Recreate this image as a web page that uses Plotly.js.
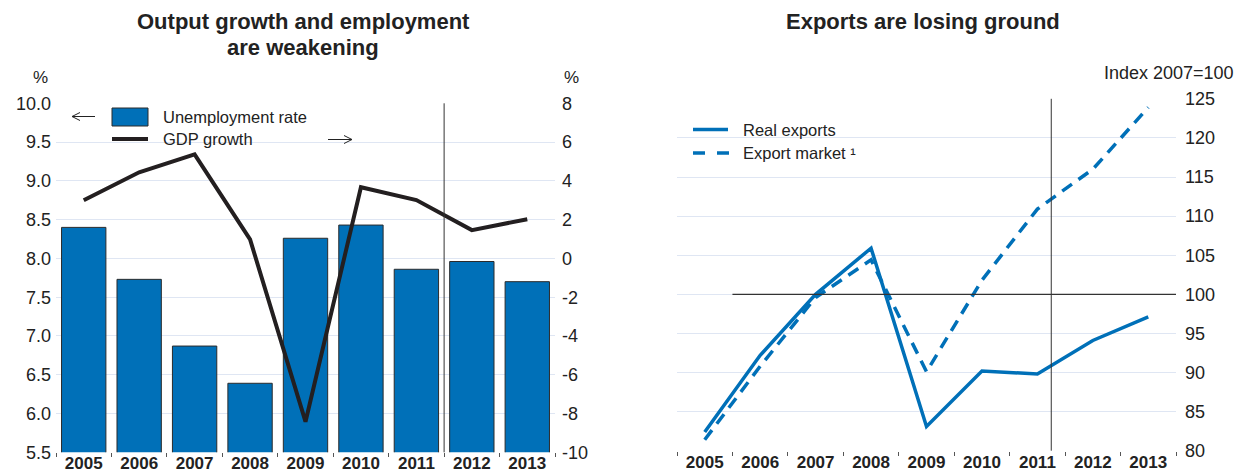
<!DOCTYPE html>
<html>
<head>
<meta charset="utf-8">
<script src="https://cdn.plot.ly/plotly-3.0.1.min.js"></script>
<style>
html,body{margin:0;padding:0;background:#fff;}
#chart{width:1236px;height:474px;}
</style>
</head>
<body>
<div id="chart"></div>
<script>
// ---- data ----
const years = ['2005','2006','2007','2008','2009','2010','2011','2012','2013'];
const unemploymentRate = [8.40, 7.73, 6.87, 6.39, 8.26, 8.43, 7.86, 7.96, 7.70];
const gdpGrowth = [3.0, 4.44, 5.37, 0.98, -8.42, 3.67, 3.01, 1.46, 2.02];
const realExports = [82.4, 92.2, 100.0, 105.9, 83.1, 90.2, 89.8, 94.1, 97.1];
const exportMarket = [81.4, 90.8, 99.6, 104.4, 90.1, 101.8, 110.9, 116.0, 123.9];
const leftTicks = [5.5, 6.0, 6.5, 7.0, 7.5, 8.0, 8.5, 9.0, 9.5, 10.0];
const rightTicks = [-10, -8, -6, -4, -2, 0, 2, 4, 6, 8];
const indexTicks = [80, 85, 90, 95, 100, 105, 110, 115, 120, 125];

const BLUE = '#0070b8';
const DARK = '#231f20';
const GRID = '#dfe6f3';
const FONT = 'Liberation Sans, Arial, sans-serif';

const traces = [
  {type:'bar', x:years, y:unemploymentRate, xaxis:'x', yaxis:'y', name:'Unemployment rate',
   marker:{color:BLUE, line:{color:'#2b2b2b', width:1}}, width:0.8, showlegend:false},
  {type:'scatter', mode:'lines', x:years, y:gdpGrowth, xaxis:'x', yaxis:'y2', name:'GDP growth',
   line:{color:DARK, width:4}, showlegend:false},
  {type:'scatter', mode:'lines', x:years, y:realExports, xaxis:'x2', yaxis:'y3', name:'Real exports',
   line:{color:BLUE, width:3.5}, showlegend:false},
  {type:'scatter', mode:'lines', x:years, y:exportMarket, xaxis:'x2', yaxis:'y3', name:'Export market',
   line:{color:BLUE, width:3.5, dash:'12px,8px'}, showlegend:false}
];

const W = 1236, H = 474;
const px = v => v / W;
const py = v => 1 - v / H;

const tickFont = {family:FONT, size:18, color:'#222'};
const xTickFont = {family:FONT, size:17, color:'#222', weight:'bold'};
const TXT = {family:FONT, size:16.5, color:'#222'};

function pathPx(points) {
  return points.map((p, i) => (i === 0 ? 'M' : 'L') + px(p[0]) + ',' + py(p[1])).join(' ');
}

const layout = {
  width:W, height:H,
  margin:{l:0, r:0, t:0, b:0},
  paper_bgcolor:'#fff', plot_bgcolor:'rgba(0,0,0,0)',
  font:{family:FONT, color:'#222'},
  xaxis:{domain:[px(56), px(555)], anchor:'y', type:'category', range:[-0.5, 8.5],
    tickfont:xTickFont, ticks:'outside', tickson:'boundaries', ticklen:4, tickcolor:'#555',
    showgrid:false, showline:false, zeroline:false, ticklabelstandoff:-1},
  yaxis:{domain:[py(452.3), py(103.3)], anchor:'x', range:[5.5, 10.0], tickvals:leftTicks,
    tickformat:'.1f', tickfont:tickFont, showgrid:true, gridcolor:GRID, gridwidth:1,
    zeroline:false, showline:false, ticks:'', ticklabelstandoff:4},
  yaxis2:{overlaying:'y', side:'right', anchor:'x', range:[-10, 8], tickvals:rightTicks,
    ticktext:rightTicks.map(String),
    tickfont:tickFont, showgrid:false, zeroline:false, showline:false, ticks:'', ticklabelstandoff:6},
  xaxis2:{domain:[px(677), px(1176)], anchor:'y3', type:'category', range:[-0.5, 8.5],
    tickfont:xTickFont, ticks:'outside', tickson:'boundaries', ticklen:4, tickcolor:'#555',
    showgrid:false, showline:false, zeroline:false, ticklabelstandoff:-1},
  yaxis3:{domain:[py(450.7), py(98.8)], anchor:'x2', side:'right', range:[80, 125], tickvals:indexTicks,
    tickfont:tickFont, showgrid:true, gridcolor:GRID, gridwidth:1, zeroline:false, showline:false,
    ticks:'', ticklabelstandoff:8},
  shapes:[
    {type:'line', xref:'x', yref:'paper', x0:6.5, x1:6.5, y0:py(452.3), y1:py(103.3),
     line:{color:'#333', width:1}},
    {type:'line', xref:'x2', yref:'paper', x0:6.25, x1:6.25, y0:py(450.7), y1:py(98.8),
     line:{color:'#333', width:1}},
    {type:'line', xref:'x2', yref:'y3', x0:0.5, x1:8.5, y0:100, y1:100,
     line:{color:'#333', width:1.2}},
    // manual legend symbols
    {type:'rect', xref:'paper', yref:'paper', x0:px(112), x1:px(148), y0:py(126), y1:py(108),
     fillcolor:BLUE, line:{color:'#2b2b2b', width:1}},
    {type:'line', xref:'paper', yref:'paper', x0:px(112), x1:px(148), y0:py(139), y1:py(139),
     line:{color:DARK, width:4}},
    {type:'line', xref:'paper', yref:'paper', x0:px(693), x1:px(728), y0:py(129.5), y1:py(129.5),
     line:{color:BLUE, width:3.5}},
    {type:'line', xref:'paper', yref:'paper', x0:px(693), x1:px(729), y0:py(153), y1:py(153),
     line:{color:BLUE, width:3.5, dash:'12px,12px'}},
    // axis direction arrows
    {type:'path', xref:'paper', yref:'paper', path:pathPx([[95,116.5],[72,116.5]]), line:{color:'#222', width:1}},
    {type:'path', xref:'paper', yref:'paper', path:pathPx([[80,112.5],[72,116.5],[80,120.5]]), line:{color:'#222', width:1}},
    {type:'path', xref:'paper', yref:'paper', path:pathPx([[328,139.5],[352,139.5]]), line:{color:'#222', width:1}},
    {type:'path', xref:'paper', yref:'paper', path:pathPx([[344,135.5],[352,139.5],[344,143.5]]), line:{color:'#222', width:1}}
  ],
  annotations:[
    {xref:'paper', yref:'paper', x:px(303), y:py(22), xanchor:'center', yanchor:'middle', showarrow:false,
     text:'<b>Output growth and employment</b>', font:{family:FONT, size:22, color:'#222'}},
    {xref:'paper', yref:'paper', x:px(303), y:py(47), xanchor:'center', yanchor:'middle', showarrow:false,
     text:'<b>are weakening</b>', font:{family:FONT, size:22, color:'#222'}},
    {xref:'paper', yref:'paper', x:px(923), y:py(22), xanchor:'center', yanchor:'middle', showarrow:false,
     text:'<b>Exports are losing ground</b>', font:{family:FONT, size:22, color:'#222'}},
    {xref:'paper', yref:'paper', x:px(40), y:py(77), xanchor:'center', yanchor:'middle', showarrow:false,
     text:'%', font:{family:FONT, size:17, color:'#222'}},
    {xref:'paper', yref:'paper', x:px(571), y:py(77), xanchor:'center', yanchor:'middle', showarrow:false,
     text:'%', font:{family:FONT, size:17, color:'#222'}},
    {xref:'paper', yref:'paper', x:px(1236), y:py(73), xanchor:'right', yanchor:'middle', showarrow:false,
     text:'Index 2007=100', font:{family:FONT, size:18, color:'#222'}},
    {xref:'paper', yref:'paper', x:px(161), y:py(117), xanchor:'left', yanchor:'middle', showarrow:false,
     text:'Unemployment rate', font:TXT},
    {xref:'paper', yref:'paper', x:px(161), y:py(139), xanchor:'left', yanchor:'middle', showarrow:false,
     text:'GDP growth', font:TXT},
    {xref:'paper', yref:'paper', x:px(741), y:py(130), xanchor:'left', yanchor:'middle', showarrow:false,
     text:'Real exports', font:TXT},
    {xref:'paper', yref:'paper', x:px(741), y:py(153), xanchor:'left', yanchor:'middle', showarrow:false,
     text:'Export market \u00b9', font:TXT}
  ]
};

Plotly.newPlot('chart', traces, layout, {displayModeBar:false, staticPlot:true});
</script>
</body>
</html>
